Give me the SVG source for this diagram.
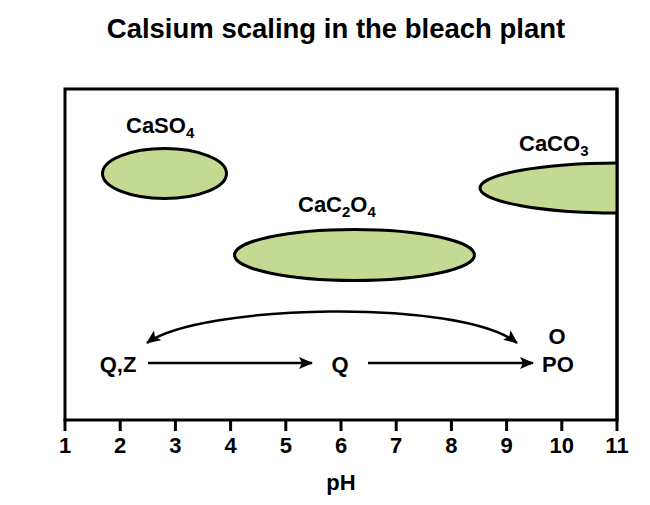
<svg xmlns="http://www.w3.org/2000/svg" width="650" height="505" viewBox="0 0 650 505">
<style>
text { font-family: "Liberation Sans", Arial, sans-serif; font-weight: bold; fill: #000; }
.title { font-size: 27.5px; }
.lbl { font-size: 22px; }
.sub { font-size: 15px; }
.tick { font-size: 22px; text-anchor: middle; }
.blob { fill: #c4d992; stroke: #000; stroke-width: 3; }
.conn { fill: none; stroke: #000; stroke-width: 2.5; }
</style>
<defs>
<marker id="ah" markerUnits="userSpaceOnUse" markerWidth="14" markerHeight="12" refX="13" refY="6" orient="auto">
<path d="M0,0 L14,6 L0,12 L3,6 Z" fill="#000"/>
</marker>
<marker id="ahs" markerUnits="userSpaceOnUse" markerWidth="14" markerHeight="12" refX="1" refY="6" orient="auto">
<path d="M14,0 L0,6 L14,12 L11,6 Z" fill="#000"/>
</marker>
<clipPath id="boxclip"><rect x="65" y="89" width="552" height="331"/></clipPath>
</defs>
<text class="title" x="336" y="38" text-anchor="middle">Calsium scaling in the bleach plant</text>
<g id="frame">
<path d="M65,420 L65,89 L617,89 L617,420" fill="none" stroke="#000" stroke-width="3"/>
</g>
<g id="caso4">
<ellipse class="blob" cx="164.5" cy="173.5" rx="62" ry="25"/>
<text class="lbl" x="126" y="133">CaSO<tspan class="sub" dy="5">4</tspan></text>
</g>
<g id="cac2o4">
<ellipse class="blob" cx="354.5" cy="255" rx="120" ry="25.5"/>
<text class="lbl" x="298" y="212">CaC<tspan class="sub" dy="5">2</tspan><tspan dy="-5">O</tspan><tspan class="sub" dy="5">4</tspan></text>
</g>
<g id="caco3">
<ellipse class="blob" cx="620" cy="188" rx="140" ry="25" clip-path="url(#boxclip)"/>
<text class="lbl" x="519" y="151">CaCO<tspan class="sub" dy="5">3</tspan></text>
</g>
<path d="M617,89 L617,420" fill="none" stroke="#000" stroke-width="3"/>
<g id="axis">
<path d="M63.5,420 L618.5,420" stroke="#000" stroke-width="3"/>
<g stroke="#000" stroke-width="3">
<path d="M65,420 V431"/><path d="M120.2,420 V431"/><path d="M175.4,420 V431"/><path d="M230.6,420 V431"/><path d="M285.8,420 V431"/><path d="M341,420 V431"/><path d="M396.2,420 V431"/><path d="M451.4,420 V431"/><path d="M506.6,420 V431"/><path d="M561.8,420 V431"/><path d="M617,420 V431"/>
</g>
<text class="tick" x="65" y="453">1</text>
<text class="tick" x="120.2" y="453">2</text>
<text class="tick" x="175.4" y="453">3</text>
<text class="tick" x="230.6" y="453">4</text>
<text class="tick" x="285.8" y="453">5</text>
<text class="tick" x="341" y="453">6</text>
<text class="tick" x="396.2" y="453">7</text>
<text class="tick" x="451.4" y="453">8</text>
<text class="tick" x="506.6" y="453">9</text>
<text class="tick" x="561.8" y="453">10</text>
<text class="tick" x="617" y="453">11</text>
<text class="tick" x="341" y="490">pH</text>
</g>
<g id="stage-qz"><text class="lbl" x="118" y="372" text-anchor="middle">Q,Z</text></g>
<g id="stage-q"><text class="lbl" x="340" y="372" text-anchor="middle">Q</text></g>
<g id="stage-po">
<text class="lbl" x="557" y="344" text-anchor="middle">O</text>
<text class="lbl" x="558" y="372" text-anchor="middle">PO</text>
</g>
<g id="connectors">
<path class="conn" d="M148,363 L312,363" marker-end="url(#ah)"/>
<path class="conn" d="M368,363 L533,363" marker-end="url(#ah)"/>
<path class="conn" d="M147,343 C200,304 460,298 517,343" marker-start="url(#ahs)" marker-end="url(#ah)"/>
</g>
</svg>
